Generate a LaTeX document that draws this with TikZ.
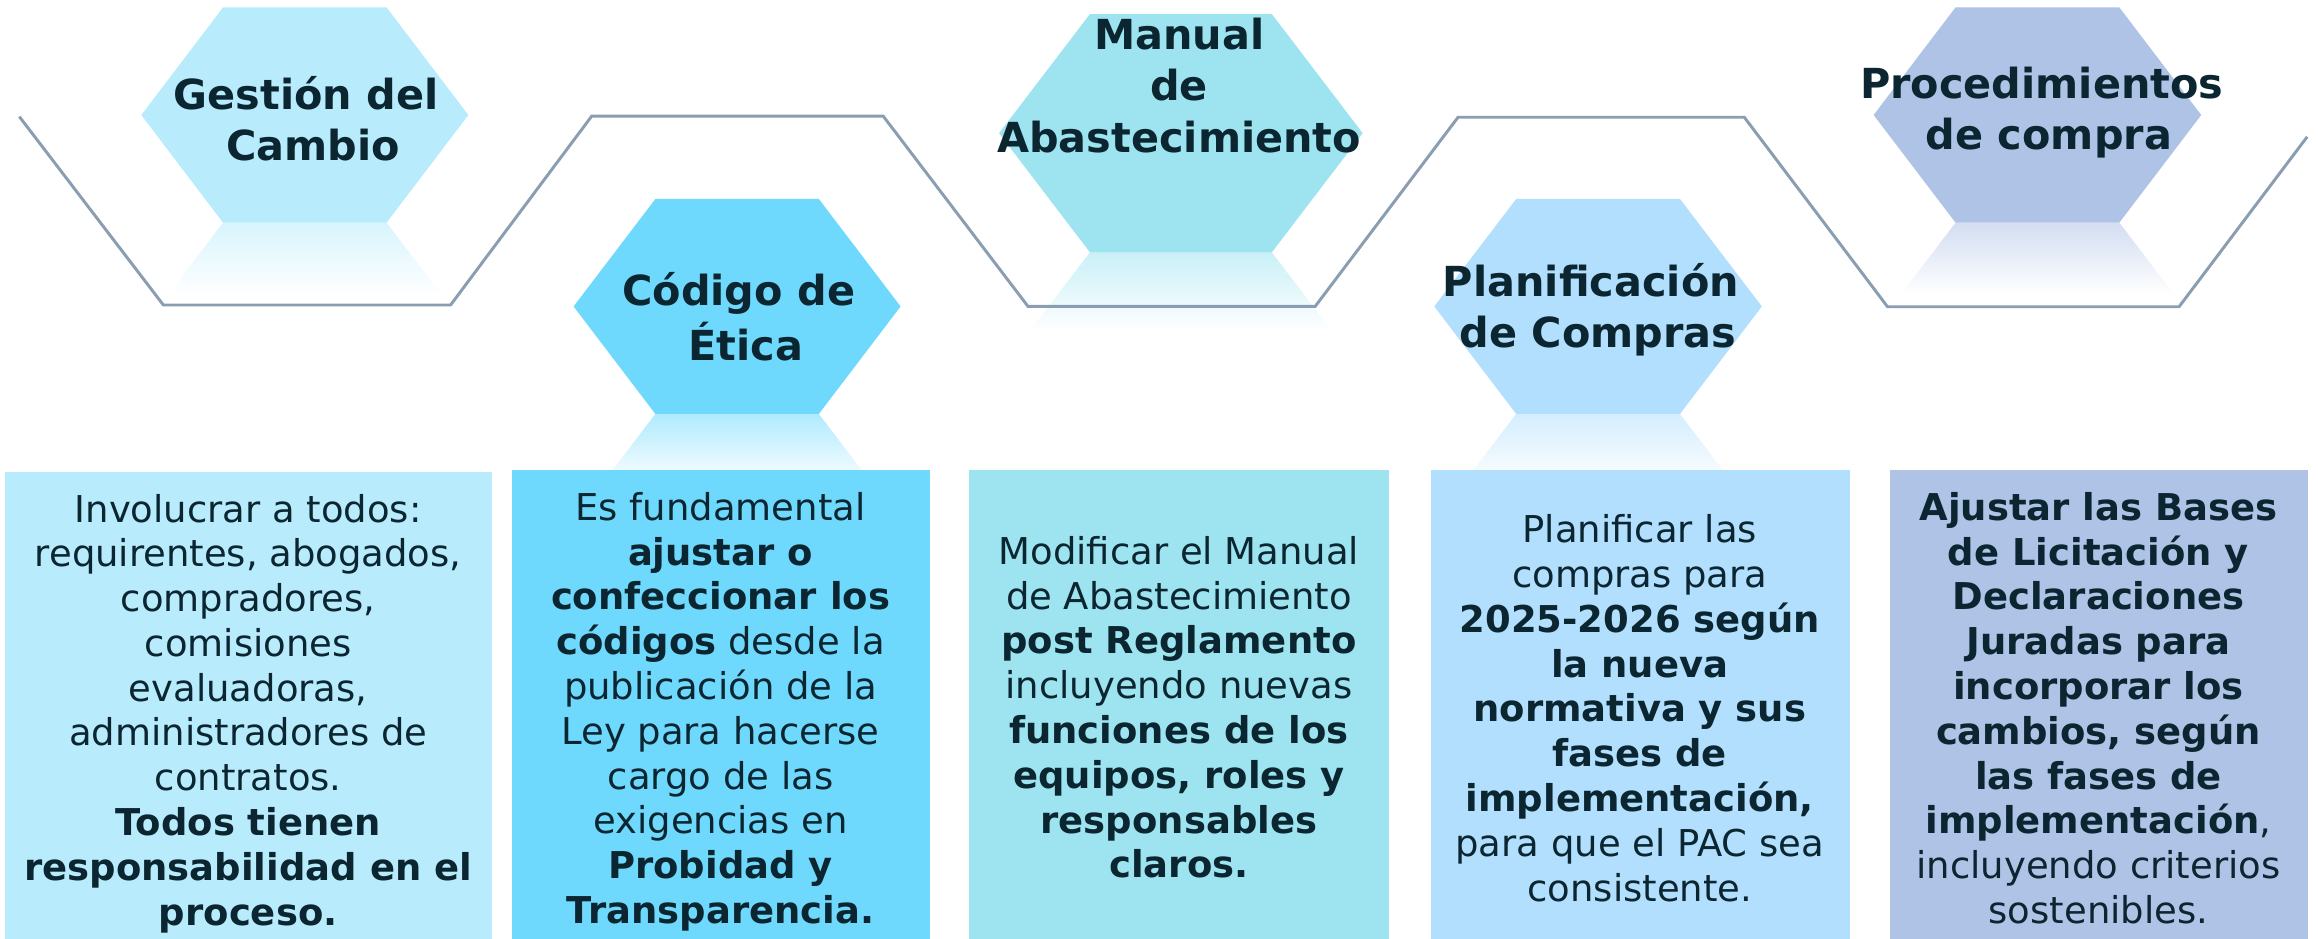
\documentclass[tikz,border=0pt]{standalone}
\usepackage{fontspec}
\setmainfont{DejaVu Sans}
\definecolor{cA}{RGB}{184,236,253}
\definecolor{cB}{RGB}{111,217,253}
\definecolor{cC}{RGB}{157,228,240}
\definecolor{cD}{RGB}{177,223,253}
\definecolor{cE}{RGB}{175,195,230}
\definecolor{linec}{RGB}{138,158,177}
\definecolor{txt}{RGB}{11,38,48}
% cx cy s h color reflection-depth
\newcommand\hexshape[6]{%
  \shade[top color=#5!55!white, bottom color=white]
    ({#1-#3/2},{#2+#4/2}) -- ({#1+#3/2},{#2+#4/2}) --
    ({#1+#3/2+#6*#3/#4},{#2+#4/2+#6}) -- ({#1-#3/2-#6*#3/#4},{#2+#4/2+#6}) -- cycle;
  \fill[#5] ({#1-#3},#2) -- ({#1-#3/2},{#2-#4/2}) -- ({#1+#3/2},{#2-#4/2}) --
    ({#1+#3},#2) -- ({#1+#3/2},{#2+#4/2}) -- ({#1-#3/2},{#2+#4/2}) -- cycle;
}
\begin{document}
\begin{tikzpicture}[x=1pt,y=-1pt,
  title/.style={font=\fontsize{28}{34.6}\selectfont\bfseries, text=txt, align=center, inner sep=0pt, anchor=north},
  body/.style={font=\fontsize{25}{30.3}\selectfont, text=txt, align=center, inner sep=0pt, anchor=north},
  panel/.style={inner sep=0pt, anchor=north west},
  zig/.style={draw=linec, line width=2pt, line join=miter}]
\useasboundingbox (0,0) rectangle (1568,635);
\fill[white] (0,0) rectangle (1568,635);

% hexagons with reflections
\hexshape{206.2}{77.8}{110.6}{145.6}{cA}{49}
\hexshape{498.6}{207.3}{110.6}{145.4}{cB}{49}
\hexshape{798.8}{90.1}{123}{161.2}{cC}{54}
\hexshape{1081}{207.3}{110.8}{145.4}{cD}{49}
\hexshape{1378.2}{77.8}{110.8}{145.6}{cE}{49}

% zigzag line
\coordinate (z0) at (13.1,78.9);
\coordinate (z1) at (110.5,206.3);
\coordinate (z2) at (304.8,206.3);
\coordinate (z3) at (400.3,78.5);
\coordinate (z4) at (597.4,78.5);
\coordinate (z5) at (695.4,207.3);
\coordinate (z6) at (889.6,207.3);
\coordinate (z7) at (986.3,79.3);
\coordinate (z8) at (1179.9,79.3);
\coordinate (z9) at (1276.8,207.5);
\coordinate (z10) at (1474,207.5);
\coordinate (z11) at (1560.7,92.5);
\draw[zig] (z0) -- (z1) -- (z2) -- (z3) -- (z4) -- (z5) -- (z6) -- (z7) -- (z8) -- (z9) -- (z10) -- (z11);

% hexagon titles
\node[title] (h1) at (211.9,49.8) {\strut Gestión del\hspace*{9.7pt}\\Cambio};
\node[title] (h2) at (504.5,182.1) {\strut Código de\hspace*{9.7pt}\\Ética};
\node[title] (h3) at (797.6,9.2) {\strut Manual\\de\\Abastecimiento};
\node[title] (h4) at (1081,176.0) {\strut Planificación\hspace*{9.7pt}\\de Compras};
\node[title] (h5) at (1386,41.9) {\strut Procedimientos\hspace*{9.7pt}\\de compra};

% bottom panels
\node[panel, fill=cA, minimum width=329.3pt, minimum height=315.7pt] (b1) at (3.3,319.3) {};
\node[panel, fill=cB, minimum width=282.9pt, minimum height=317.1pt] (b2) at (345.9,317.9) {};
\node[panel, fill=cC, minimum width=283.8pt, minimum height=317pt] (b3) at (655.6,318) {};
\node[panel, fill=cD, minimum width=283.4pt, minimum height=317pt] (b4) at (967.5,318) {};
\node[panel, fill=cE, minimum width=283pt, minimum height=317pt] (b5) at (1278,318) {};

% panel texts
\node[body] (t1) at (167.9,331.7) {\strut Involucrar a todos:\\requirentes, abogados,\\compradores,\\comisiones\\evaluadoras,\\administradores de\\contratos.\\\textbf{Todos tienen}\\\textbf{responsabilidad en el}\\\textbf{proceso.}};
\node[body] (t2) at (487.4,330.6) {\strut Es fundamental\\\textbf{ajustar o}\\\textbf{confeccionar los}\\\textbf{códigos} desde la\\publicación de la\\Ley para hacerse\\cargo de las\\exigencias en\\\textbf{Probidad y}\\\textbf{Transparencia.}};
\node[body] (t3) at (797.5,360.3) {\strut Modificar el Manual\\de Abastecimiento\\\textbf{post Reglamento}\\incluyendo nuevas\\\textbf{funciones de los}\\\textbf{equipos, roles y}\\\textbf{responsables}\\\textbf{claros.}};
\node[body] (t4) at (1109.2,345.7) {\strut Planificar las\\compras para\\\textbf{2025-2026 según}\\\textbf{la nueva}\\\textbf{normativa y sus}\\\textbf{fases de}\\\textbf{implementación,}\\para que el PAC sea\\consistente.};
\node[body] (t5) at (1419.5,330.6) {\strut\textbf{Ajustar las Bases}\\\textbf{de Licitación y}\\\textbf{Declaraciones}\\\textbf{Juradas para}\\\textbf{incorporar los}\\\textbf{cambios, según}\\\textbf{las fases de}\\\textbf{implementación},\\incluyendo criterios\\sostenibles.};
\end{tikzpicture}
\end{document}
